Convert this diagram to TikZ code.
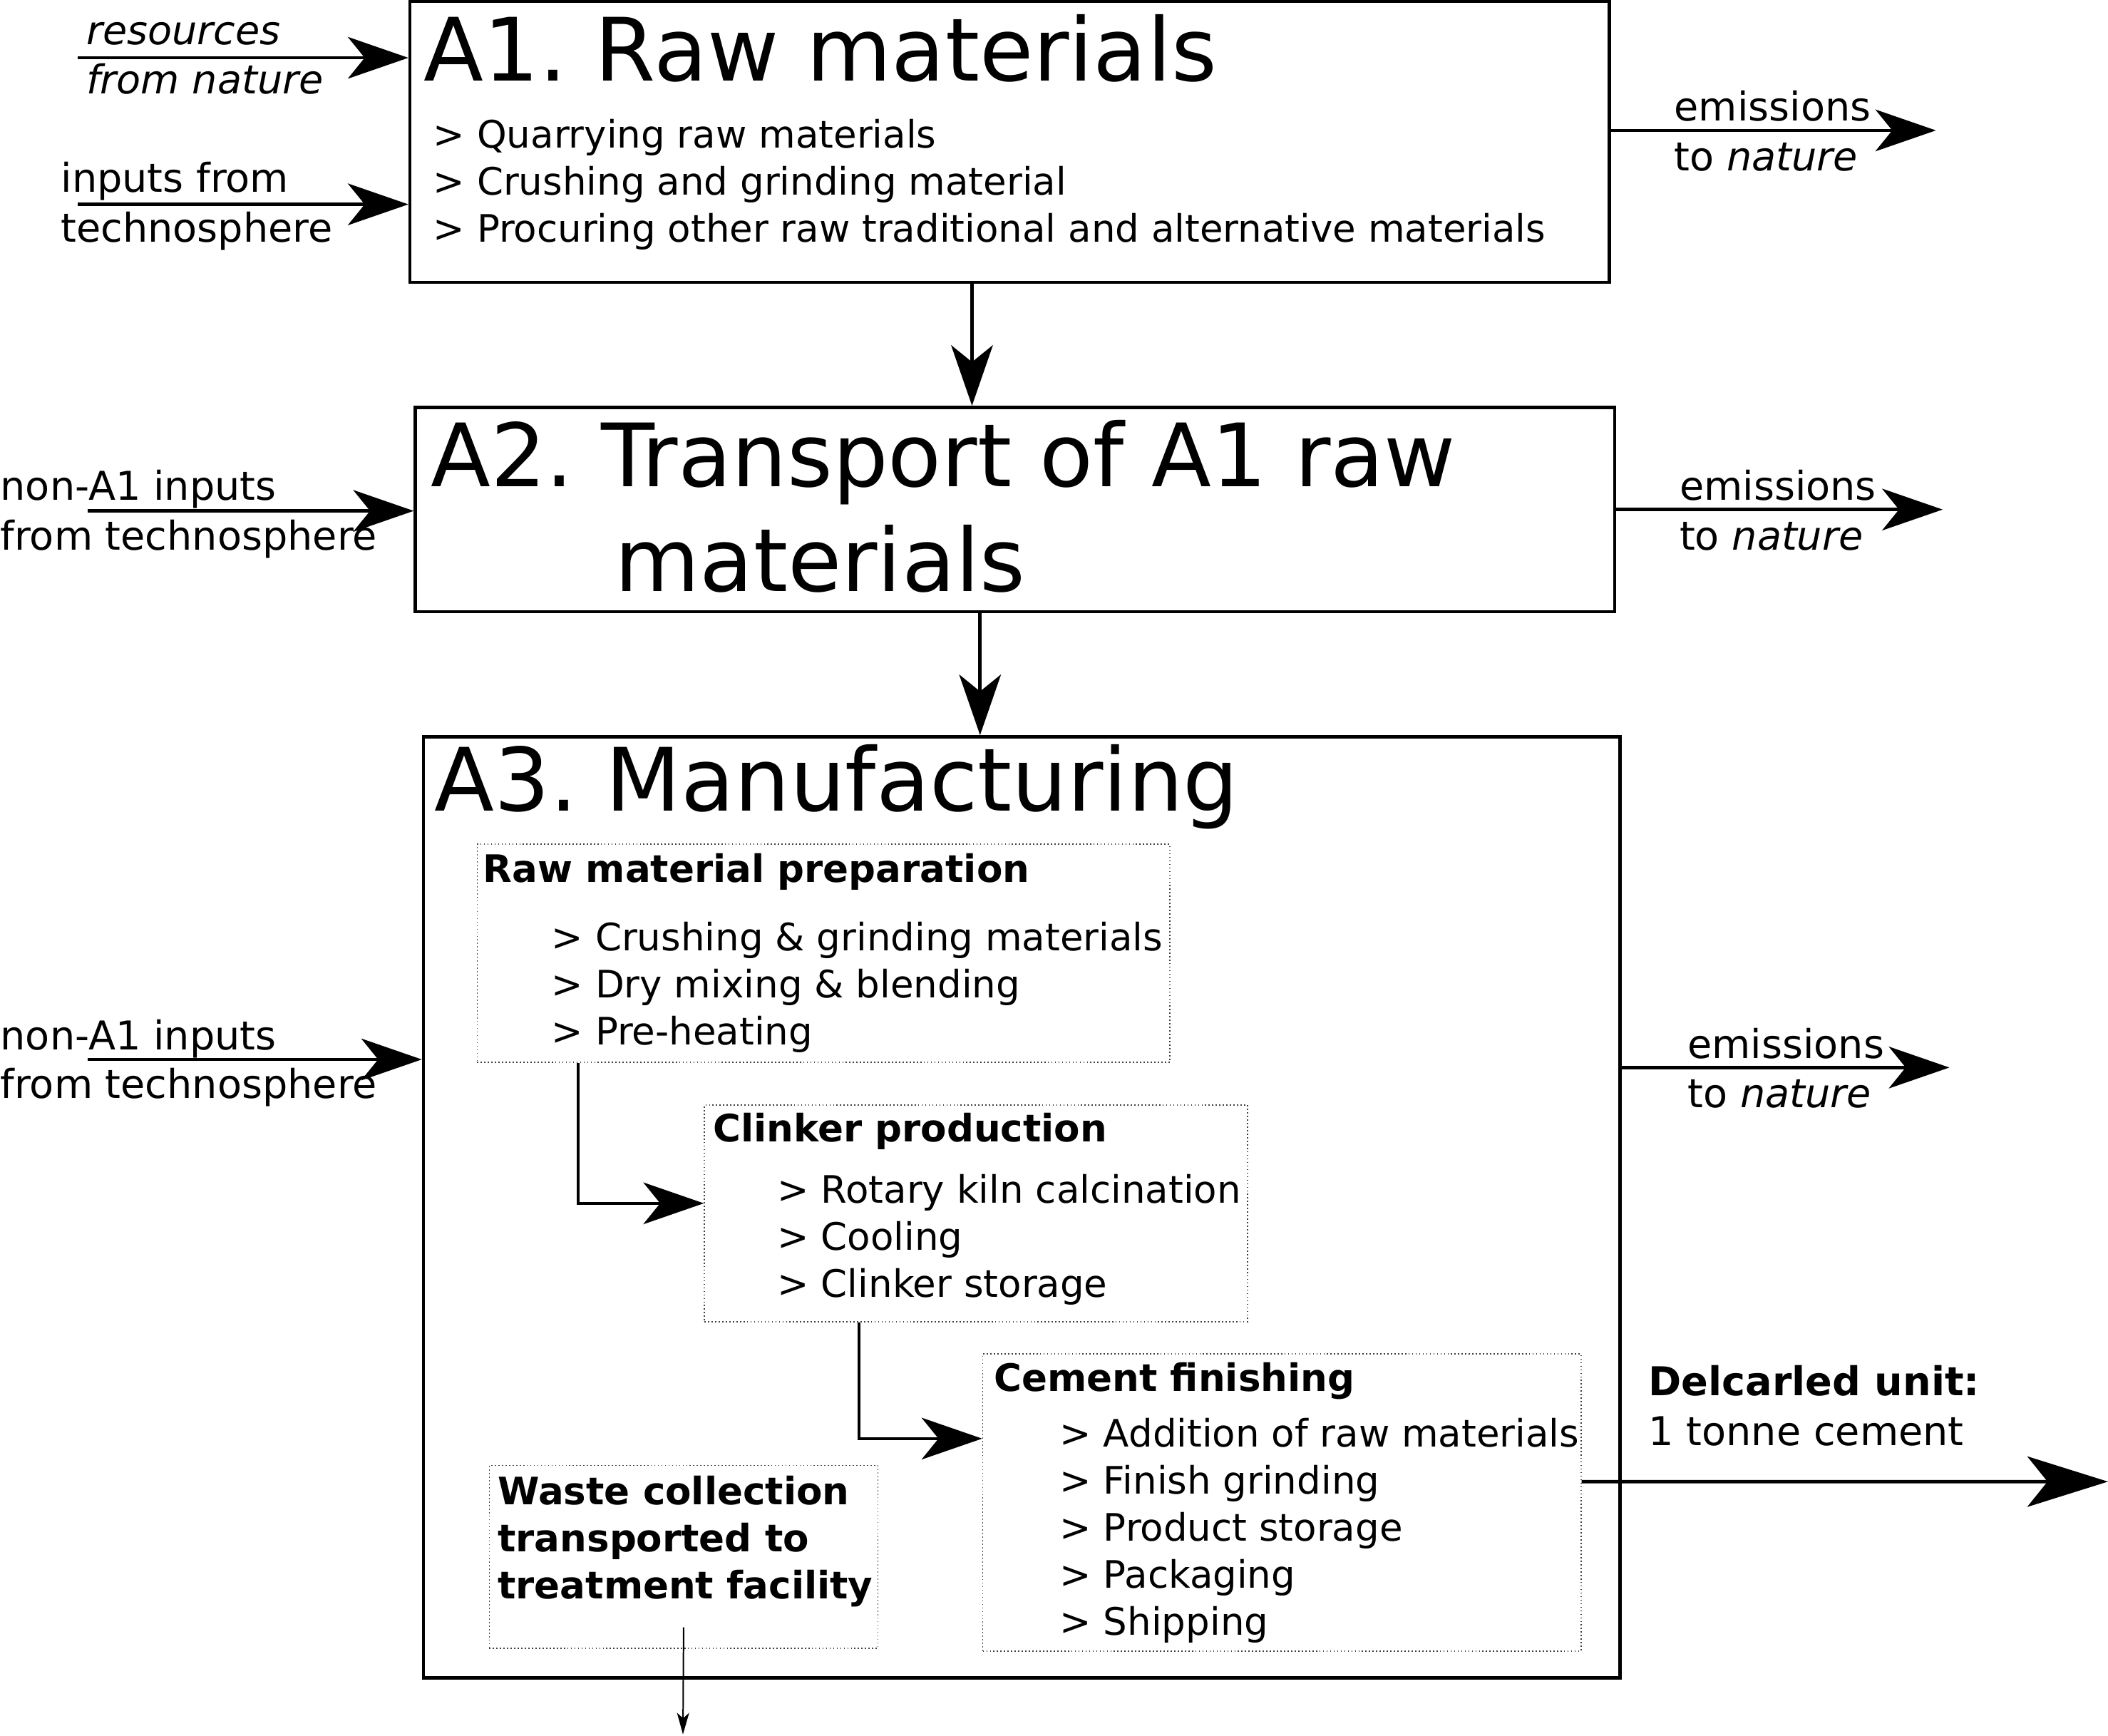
\documentclass[tikz,border=0pt]{standalone}
\usepackage{fontspec}
\setmainfont{DejaVu Sans}
\usetikzlibrary{arrows.meta,positioning,calc}
\frenchspacing

\begin{document}
\begin{tikzpicture}[x=0.2mm,y=-0.2mm,
    box/.style={draw,line width=1.4pt,inner sep=0pt},
    sub/.style={draw=black!75,line width=0.5pt,dash pattern=on 0.5pt off 1pt,inner sep=0pt},
    arr/.style={line width=1.4pt,-{Stealth[length=9mm,width=6.2mm,inset=2.5mm]}},
    big/.style={anchor=base west,inner sep=0pt,font=\fontsize{37}{45}\selectfont},
    txt/.style={anchor=base west,inner sep=0pt,font=\fontsize{16}{20}\selectfont},
    head/.style={txt,font=\fontsize{16}{20}\selectfont\bfseries},
    side/.style={anchor=base west,inner sep=0pt,font=\fontsize{16.8}{21}\selectfont}]
  \useasboundingbox (0,0) rectangle (1568,1291);

  \node[box,minimum width=178.4mm,minimum height=41.8mm] (a1) at (751,105.5) {};
  \node[box,minimum width=178.4mm,minimum height=30.4mm] (a2) at (755,379) {};
  \node[box,minimum width=178mm,minimum height=140mm] (a3) at (760,898) {};
  \node[sub,minimum width=103mm,minimum height=32.4mm] (rmp) at (612.5,709) {};
  \node[sub,minimum width=80.8mm,minimum height=32.2mm] (clk) at (726,902.5) {};
  \node[sub,minimum width=89mm,minimum height=44.2mm] (cem) at (953.5,1117.5) {};
  \node[sub,minimum width=57.8mm,minimum height=27.2mm] (wst) at (508.5,1158) {};

  \node[big] (a1t) at (315,60) {A1. Raw materials};
  \node[big] (a2t) at (320,362) {A2. Transport of A1 raw};
  \node[big] (a2u) at (457,440) {materials};
  \node[big] (a3t) at (323,603) {A3. Manufacturing};

  \foreach \t [count=\i] in {Quarrying raw materials,Crushing and grinding material,
      Procuring other raw traditional and alternative materials}
    \node[txt] (a1l\i) at (322,75+35*\i) {> \t};

  \node[head] (rmph) at (359,656) {Raw material preparation};
  \foreach \t [count=\i] in {Crushing \& grinding materials,Dry mixing \& blending,Pre-heating}
    \node[txt] (rmp\i) at (410,672+35*\i) {> \t};

  \node[head] (clkh) at (530,849) {Clinker production};
  \foreach \t [count=\i] in {Rotary kiln calcination,Cooling,Clinker storage}
    \node[txt] (clk\i) at (578,860+35*\i) {> \t};

  \node[head] (cemh) at (739,1035) {Cement finishing};
  \foreach \t [count=\i] in {Addition of raw materials,Finish grinding,Product storage,Packaging,Shipping}
    \node[txt] (cem\i) at (788,1041+35*\i) {> \t};

  \foreach \t [count=\i] in {Waste collection,transported to,treatment facility}
    \node[head] (wst\i) at (370,1084+35*\i) {\t};

  \node[side] (r1a) at (64,33) {\itshape resources};
  \node[side] (r1b) at (64,70) {\itshape from nature};
  \node[side] (t1a) at (45,143) {inputs from};
  \node[side] (t1b) at (45,180) {technosphere};
  \node[side] (e1a) at (1245,90) {emissions};
  \node[side] (e1b) at (1245,127) {to \textit{nature}};
  \node[side] (t2a) at (0,372) {non-A1 inputs};
  \node[side] (t2b) at (0,409) {from technosphere};
  \node[side] (e2a) at (1249,372) {emissions};
  \node[side] (e2b) at (1249,409) {to \textit{nature}};
  \node[side] (t3a) at (0,781) {non-A1 inputs};
  \node[side] (t3b) at (0,817) {from technosphere};
  \node[side] (e3a) at (1255,787) {emissions};
  \node[side] (e3b) at (1255,824) {to \textit{nature}};
  \node[side,font=\fontsize{16.8}{21}\selectfont\bfseries] (du) at (1226,1038) {Delcarled unit:};
  \node[side] (dt) at (1226,1075) {1 tonne cement};

  \coordinate (in1) at (58,43);
  \coordinate (in2) at (58,152);
  \coordinate (out1) at (1440,97);
  \coordinate (in3) at (65,380);
  \coordinate (out2) at (1445,379);
  \coordinate (in4) at (65,788);
  \coordinate (out3) at (1450,794);
  \coordinate (unit) at (1568,1102);
  \coordinate (waste) at (508,1290);

  \draw[arr] (in1) -- (in1 -| a1.west);
  \draw[arr] (in2) -- (in2 -| a1.west);
  \draw[arr] (a1.east |- out1) -- (out1);
  \draw[arr] (in3) -- (in3 -| a2.west);
  \draw[arr] (a2.east |- out2) -- (out2);
  \draw[arr] (in4) -- (in4 -| a3.west);
  \draw[arr] (a3.east |- out3) -- (out3);
  \draw[arr] ([xshift=-5.6mm]a1.south) -- ([xshift=-5.6mm]a1.south |- a2.north);
  \draw[arr] ([xshift=-5.2mm]a2.south) -- ([xshift=-5.2mm]a2.south |- a3.north);
  \draw[arr] ([xshift=-36.5mm]rmp.south) |- ([yshift=1.5mm]clk.west);
  \draw[arr] ([xshift=-17.4mm]clk.south) |- ([yshift=9.5mm]cem.west);
  \draw[line width=1.4pt,-{Stealth[length=12mm,width=7.5mm,inset=3mm]}] ([yshift=3.1mm]cem.east) -- (unit);
  \draw[line width=0.6pt,-{Stealth[length=3.2mm,width=1.8mm,inset=0.8mm]}] ([yshift=3.2mm]wst.south) -- (waste);
\end{tikzpicture}
\end{document}
